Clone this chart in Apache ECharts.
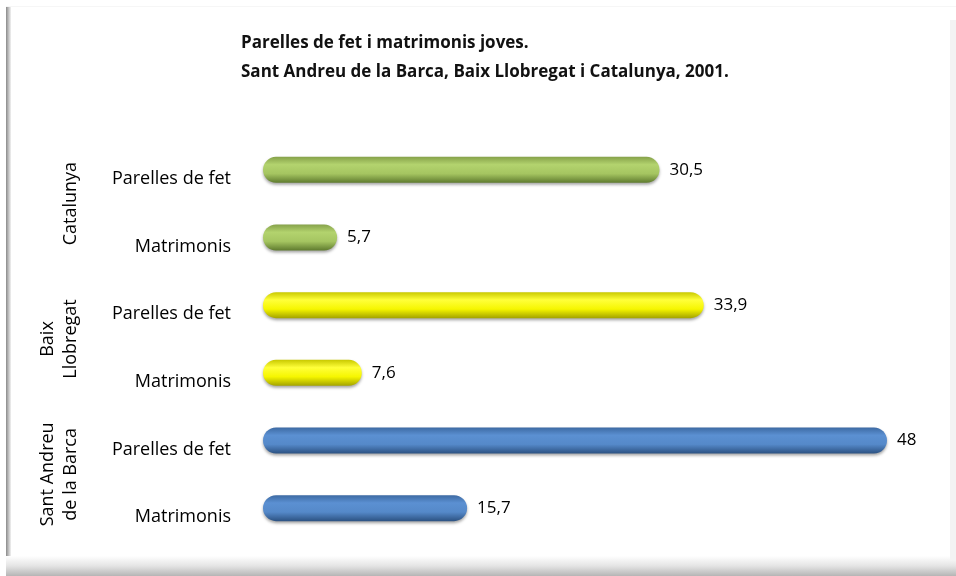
<!DOCTYPE html>
<html>
<head>
<meta charset="utf-8" />
<script type="text/javascript" src="https://cdn.jsdelivr.net/npm/echarts@6/dist/echarts.min.js"></script>
<title>Parelles de fet i matrimonis joves</title>
<style>
  html, body { margin: 0; padding: 0; background: #fff; }
  #main { width: 956px; height: 576px; }
</style>
</head>
<body>
<div id="main"></div>
<script type="text/javascript">
// data, bottom to top as the category axis draws it
var tipus = ['Matrimonis', 'Parelles de fet', 'Matrimonis', 'Parelles de fet', 'Matrimonis', 'Parelles de fet'];
var territoris = ['Sant Andreu\nde la Barca', 'Baix\nLlobregat', 'Catalunya'];
var valors = [15.7, 48, 7.6, 33.9, 5.7, 30.5];
var grup = [0, 0, 1, 1, 2, 2];

// gradient stops per territory: blue, yellow, green
var colorStops = [
  ['#3d6aa3', '#5b90d2', '#5589c9', '#2c5282'],
  ['#c9c900', '#ffff3a', '#f6f600', '#a3a300'],
  ['#86a24a', '#b3d36e', '#a5c561', '#5f7b2e']
];

function grad(c) {
  return new echarts.graphic.LinearGradient(0, 0, 0, 1, [
    {offset: 0, color: c[0]},
    {offset: 0.3, color: c[1]},
    {offset: 0.65, color: c[2]},
    {offset: 1, color: c[3]}
  ]);
}

var dades = valors.map(function (v, i) {
  return {value: v, itemStyle: {color: grad(colorStops[grup[i]])}};
});

var font = 'Open Sans';
var myChart = echarts.init(document.getElementById('main'));
var option = {
  backgroundColor: '#fff',
  animation: false,
  title: {
    text: 'Parelles de fet i matrimonis joves.\nSant Andreu de la Barca, Baix Llobregat i Catalunya, 2001.',
    left: 236,
    top: 24,
    textStyle: {fontFamily: font, fontSize: 17, fontWeight: 'bold', color: '#111', lineHeight: 29}
  },
  graphic: [
    {type: 'rect', shape: {x: 6, y: 6, width: 5, height: 570},
      style: {fill: new echarts.graphic.LinearGradient(0, 0, 1, 0, [
        {offset: 0, color: '#8a8a8a'}, {offset: 1, color: '#f2f2f2'}])}},
    {type: 'rect', shape: {x: 6, y: 556, width: 950, height: 20},
      style: {fill: new echarts.graphic.LinearGradient(0, 0, 0, 1, [
        {offset: 0, color: '#ffffff'}, {offset: 0.5, color: '#e4e4e4'}, {offset: 1, color: '#b5b5b5'}])}},
    {type: 'rect', shape: {x: 6, y: 6, width: 950, height: 1}, style: {fill: '#f6f6f6'}},
    {type: 'rect', shape: {x: 950, y: 20, width: 6, height: 540}, style: {fill: '#f3f3f3'}}
  ],
  grid: {left: 263, top: 136, width: 650, height: 406, containLabel: false},
  xAxis: {
    type: 'value', min: 0, max: 50, show: false
  },
  yAxis: [
    {
      type: 'category', data: tipus, position: 'left',
      axisLine: {show: false}, axisTick: {show: false},
      axisLabel: {margin: 32, fontFamily: font, fontSize: 18, color: '#000',
        verticalAlign: 'top', lineHeight: 18}
    },
    {
      type: 'category', data: territoris, position: 'left', offset: 181,
      axisLine: {show: false}, axisTick: {show: false},
      axisLabel: {rotate: 90, margin: 0, fontFamily: font, fontSize: 18, color: '#000',
        align: 'center', verticalAlign: 'bottom', lineHeight: 23}
    }
  ],
  series: [{
    type: 'bar', yAxisIndex: 0, data: dades, barWidth: 26,
    itemStyle: {borderRadius: 13, shadowColor: 'rgba(0,0,0,0.35)', shadowBlur: 3, shadowOffsetY: 2},
    label: {
      show: true, position: 'right', distance: 10,
      fontFamily: font, fontSize: 17, color: '#000',
      formatter: function (p) { return String(p.value).replace('.', ','); }
    }
  }]
};
myChart.setOption(option);
</script>
</body>
</html>
